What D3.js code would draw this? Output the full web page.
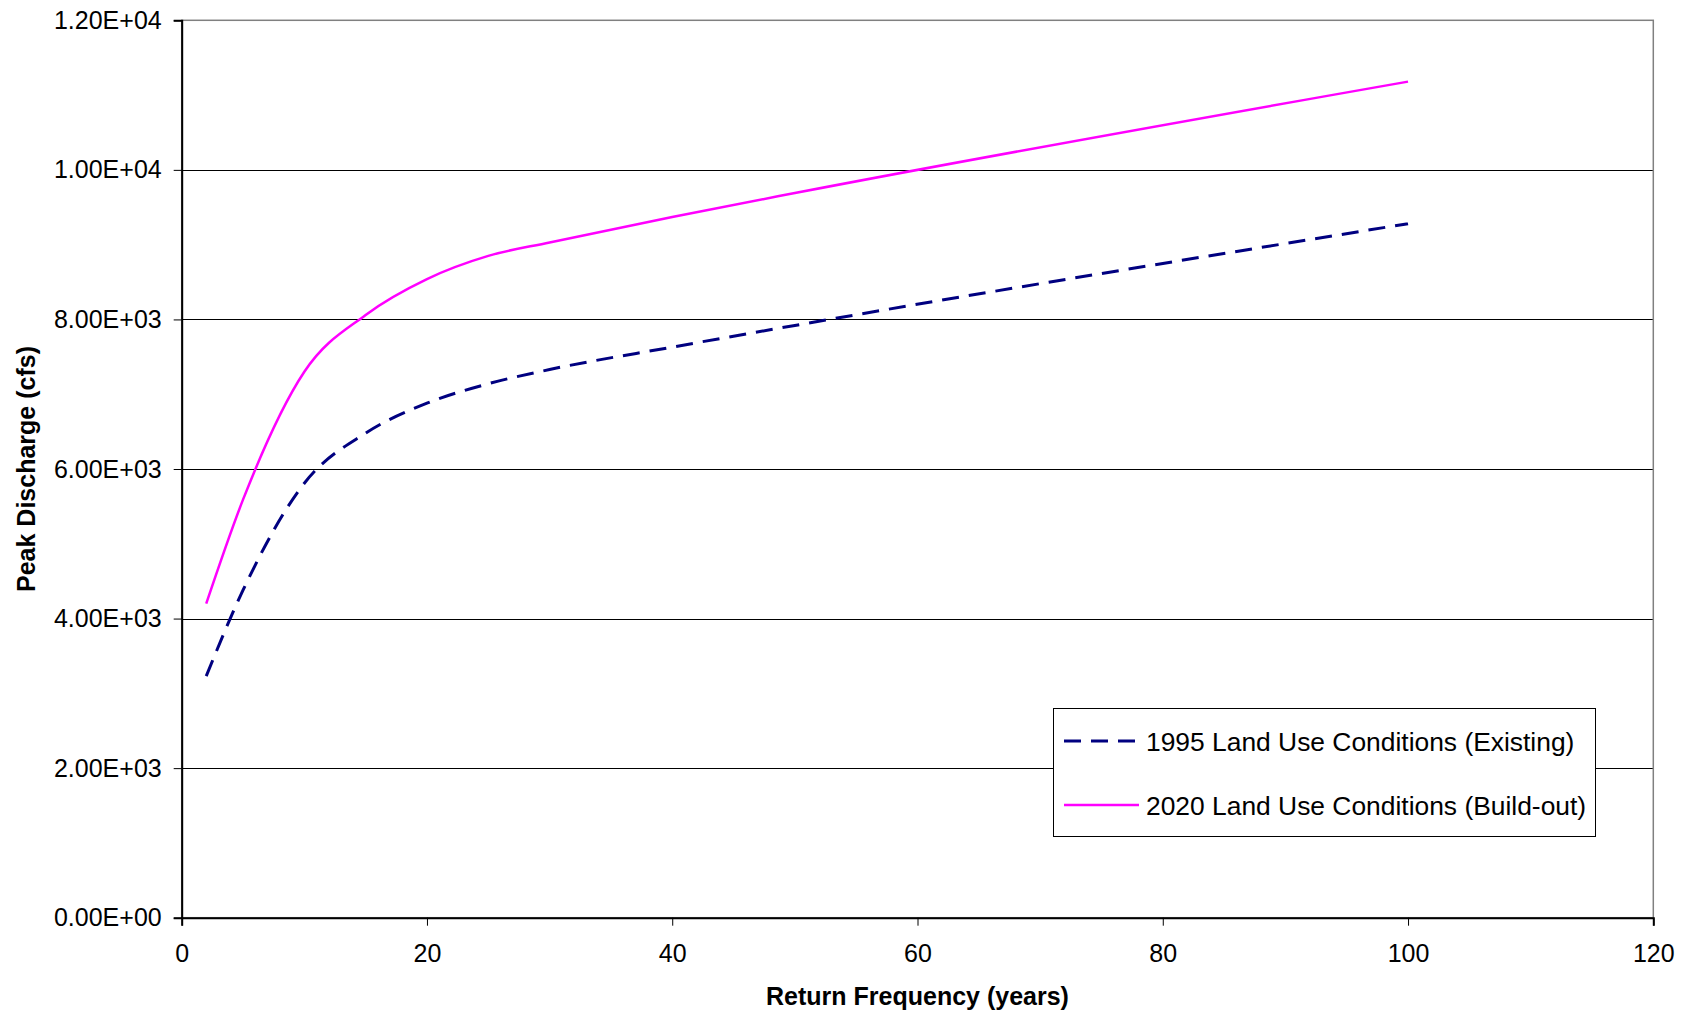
<!DOCTYPE html>
<html>
<head>
<meta charset="utf-8">
<script src="https://cdn.jsdelivr.net/npm/d3@7"></script>
<style>
  html, body { margin: 0; padding: 0; background: #fff; }
  svg { display: block; font-family: Arial, "Liberation Sans", sans-serif; }
</style>
</head>
<body>
<svg id="chart" width="1687" height="1015"></svg>
<script>
// Return periods (years) and peak discharges (cfs)
const returnYears = [2, 5, 10, 15, 20, 25, 30, 40, 50, 100];
const existing1995 = [3230, 4380, 5810, 6480, 6880, 7140, 7330, 7630, 7920, 9280];
const buildout2020 = [4200, 5590, 7300, 8060, 8540, 8850, 9030, 9370, 9690, 11180];

const xTicks = [0, 20, 40, 60, 80, 100, 120];
const yTicks = [0, 2000, 4000, 6000, 8000, 10000, 12000];

const seriesNames = [
  "1995 Land Use Conditions (Existing)",
  "2020 Land Use Conditions (Build-out)"
];

const FONT = "Arial, 'Liberation Sans', sans-serif";
const svg = d3.select("#chart");
const plot = { left: 181.7, right: 1653.3, top: 20.3, bottom: 917.7 };

const x = d3.scaleLinear().domain([0, 120]).range([plot.left, plot.right]);
const y = d3.scaleLinear().domain([0, 12000]).range([plot.bottom, plot.top]);

// horizontal gridlines
svg.append("g")
  .selectAll("line")
  .data(yTicks.filter(d => d > 0 && d < 12000))
  .join("line")
  .attr("x1", plot.left).attr("x2", plot.right)
  .attr("y1", d => Math.round(y(d)) + 0.5).attr("y2", d => Math.round(y(d)) + 0.5)
  .attr("stroke", "#000").attr("stroke-width", 1);

// plot frame
svg.append("rect")
  .attr("x", plot.left).attr("y", plot.top)
  .attr("width", plot.right - plot.left).attr("height", plot.bottom - plot.top)
  .attr("fill", "none").attr("stroke", "#808080").attr("stroke-width", 1.5);

// Y axis with scientific-notation labels (e.g. 1.20E+04)
const sci = d => d3.format(".2e")(d).toUpperCase().replace(/E([+-])(\d)$/, "E$10$2");
const yAxis = d3.axisLeft(y).tickValues(yTicks).tickSize(8).tickPadding(12).tickFormat(sci);
const gy = svg.append("g").attr("transform", `translate(${plot.left},0)`).call(yAxis);
gy.select(".domain").attr("stroke", "#000").attr("stroke-width", 2);
gy.selectAll(".tick line").attr("stroke", "#000").attr("stroke-width", 1);
gy.selectAll("text").attr("font-size", 25).attr("fill", "#000").attr("font-family", FONT);

// X axis
const xAxis = d3.axisBottom(x).tickValues(xTicks).tickSize(8).tickPadding(19).tickFormat(d3.format("d"));
const gx = svg.append("g").attr("transform", `translate(0,${plot.bottom})`).call(xAxis);
gx.select(".domain").attr("stroke", "#000").attr("stroke-width", 2);
gx.selectAll(".tick line").attr("stroke", "#000").attr("stroke-width", 1);
gx.selectAll("text").attr("font-size", 25).attr("fill", "#000").attr("font-family", FONT);

// axis titles
svg.append("text")
  .attr("x", (plot.left + plot.right) / 2).attr("y", 1005)
  .attr("text-anchor", "middle")
  .attr("font-size", 25).attr("font-weight", "bold")
  .text("Return Frequency (years)");

svg.append("text")
  .attr("transform", `translate(35,${(plot.top + plot.bottom) / 2}) rotate(-90)`)
  .attr("text-anchor", "middle")
  .attr("font-size", 25).attr("font-weight", "bold")
  .text("Peak Discharge (cfs)");

// smoothed series lines
const line = d3.line()
  .x(d => x(d[0]))
  .y(d => y(d[1]))
  .curve(d3.curveMonotoneX);

const series = [
  { values: existing1995, color: "#000080", width: 3, dash: "17,10" },
  { values: buildout2020, color: "#FF00FF", width: 2.5, dash: null }
];

series.forEach(s => {
  svg.append("path")
    .datum(returnYears.map((yr, i) => [yr, s.values[i]]))
    .attr("d", line)
    .attr("fill", "none")
    .attr("stroke", s.color)
    .attr("stroke-width", s.width)
    .attr("stroke-dasharray", s.dash);
});

// legend
const legend = svg.append("g");
legend.append("rect")
  .attr("x", 1053.5).attr("y", 708.5)
  .attr("width", 542).attr("height", 128)
  .attr("fill", "#fff").attr("stroke", "#000").attr("stroke-width", 1);

const legendRows = [741, 805];
series.forEach((s, i) => {
  legend.append("line")
    .attr("x1", 1064).attr("x2", 1139)
    .attr("y1", legendRows[i]).attr("y2", legendRows[i])
    .attr("stroke", s.color).attr("stroke-width", s.width)
    .attr("stroke-dasharray", s.dash);
  legend.append("text")
    .attr("x", 1146).attr("y", legendRows[i] + 9.5)
    .attr("font-size", 26.4).attr("fill", "#000")
    .attr("font-family", FONT)
    .text(seriesNames[i]);
});
</script>
</body>
</html>
